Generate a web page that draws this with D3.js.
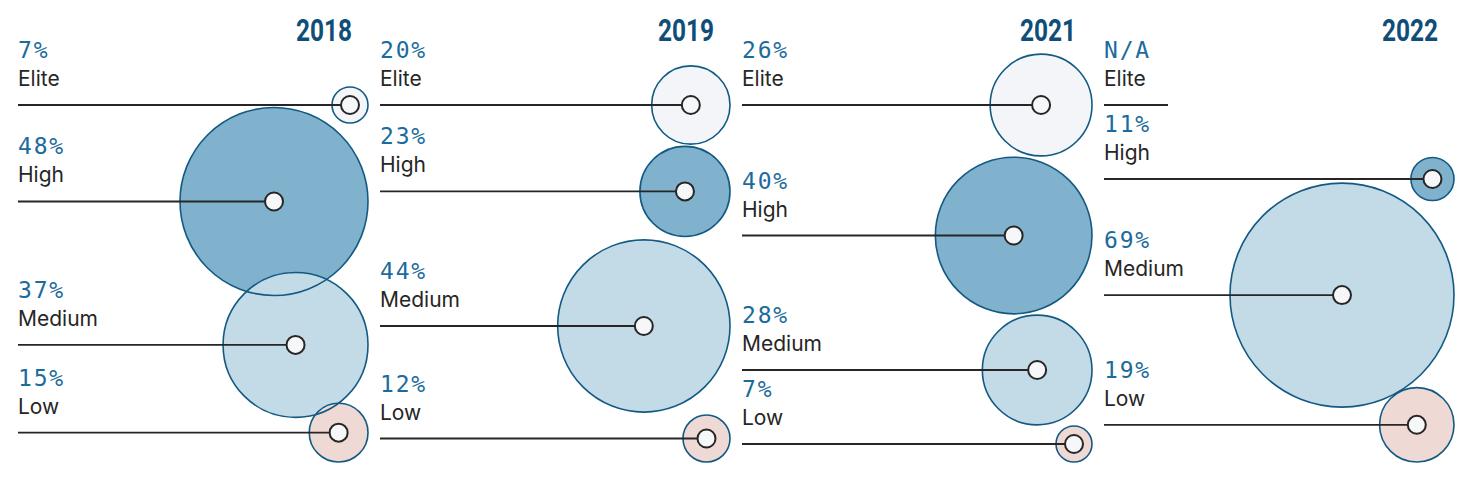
<!DOCTYPE html>
<html><head><meta charset="utf-8">
<script src="https://cdn.jsdelivr.net/npm/d3@7"></script>
<style>html,body{margin:0;padding:0;background:#fff;}svg{display:block;}</style>
</head><body>
<svg id="chart" width="1461" height="484"></svg>
<script>
// ---- data ----
const years = ["2018", "2019", "2021", "2022"];
const categories = ["Elite", "High", "Medium", "Low"];
const values2018 = [7, 48, 37, 15];
const values2019 = [20, 23, 44, 12];
const values2021 = [26, 40, 28, 7];
const values2022 = [null, 11, 69, 19];
const seriesValues = [values2018, values2019, values2021, values2022];

// ---- styles ----
const fills = {Elite: "#f3f5f8", High: "#80b2cd", Medium: "#c3dae7", Low: "#efd9d5"};
const strokeCol = "#125a83";
const pctCol = "#1b6c9c";
const yearCol = "#0f4e78";
const inkCol = "#262626";

const W = 1461, H = 484;
const svg = d3.select("#chart");

const colX = d3.scaleBand().domain(years).range([18, 18 + 362 * years.length]).paddingInner(0).paddingOuter(0);
const colW = 350;
const rScale = d3.scaleLinear().domain([0, 48, 69]).range([0, 94, 112]);
const radius = v => v == null ? 0 : Math.max(18, rScale(v));

const firstY = 105, bottomY = 462, minStep = 74;

years.forEach((yr, ci) => {
  const x0 = colX(yr);
  const right = x0 + colW;
  const vals = seriesValues[ci];
  const rows = categories.map((c, i) => ({cat: c, v: vals[i], r: radius(vals[i])}));
  // vertical layout: stack circles, then fit to the column height
  const steps = [];
  for (let i = 1; i < rows.length; i++) {
    steps.push(Math.max(minStep, rows[i - 1].r + rows[i].r));
  }
  const target = bottomY - firstY - rows[rows.length - 1].r;
  const fixed = steps.map(s => s <= minStep + 0.01);
  const fixedSum = d3.sum(steps.filter((s, i) => fixed[i]));
  const flexSum = d3.sum(steps.filter((s, i) => !fixed[i]));
  const f = (target - fixedSum) / flexSum;
  let y = firstY;
  rows.forEach((d, i) => {
    if (i > 0) y += fixed[i - 1] ? steps[i - 1] : steps[i - 1] * f;
    d.y = y;
    d.cx = right - d.r;
  });

  const g = svg.append("g");
  // year title
  g.append("text")
    .attr("x", right - 16).attr("y", 41)
    .attr("text-anchor", "end")
    .attr("font-family", "Roboto, 'DejaVu Sans Condensed', sans-serif")
    .attr("font-weight", 700)
    .attr("font-size", 32)
    .attr("textLength", 56).attr("lengthAdjust", "spacingAndGlyphs")
    .attr("fill", yearCol)
    .text(yr);

  const circ = rows.filter(d => d.v != null);
  // fills
  g.selectAll("circle.fill").data(circ).join("circle")
    .attr("class", "fill")
    .attr("cx", d => d.cx).attr("cy", d => d.y).attr("r", d => d.r)
    .attr("fill", d => fills[d.cat]);
  // outlines
  g.selectAll("circle.ring").data(circ).join("circle")
    .attr("class", "ring")
    .attr("cx", d => d.cx).attr("cy", d => d.y).attr("r", d => d.r)
    .attr("fill", "none").attr("stroke", strokeCol).attr("stroke-width", 1.6);

  // labels
  rows.forEach(d => {
    g.append("text")
      .attr("x", x0).attr("y", d.y - 47)
      .attr("font-family", "'DejaVu Sans Mono', monospace")
      .attr("font-size", 23).attr("letter-spacing", 1.8)
      .attr("fill", pctCol)
      .text(d.v == null ? "N/A" : d.v + "%");
    g.append("text")
      .attr("x", x0).attr("y", d.y - 19)
      .attr("font-family", "Inter, 'Noto Sans', sans-serif")
      .attr("font-size", 21)
      .attr("fill", inkCol)
      .text(d.cat);
    g.append("line")
      .attr("x1", x0).attr("x2", d.v == null ? x0 + 64 : d.cx)
      .attr("y1", d.y).attr("y2", d.y)
      .attr("stroke", inkCol).attr("stroke-width", 1.8);
  });
  // center markers
  g.selectAll("circle.dot").data(circ).join("circle")
    .attr("class", "dot")
    .attr("cx", d => d.cx).attr("cy", d => d.y).attr("r", 9)
    .attr("fill", "#f6f7f9").attr("stroke", inkCol).attr("stroke-width", 2);
});
</script>
</body></html>
